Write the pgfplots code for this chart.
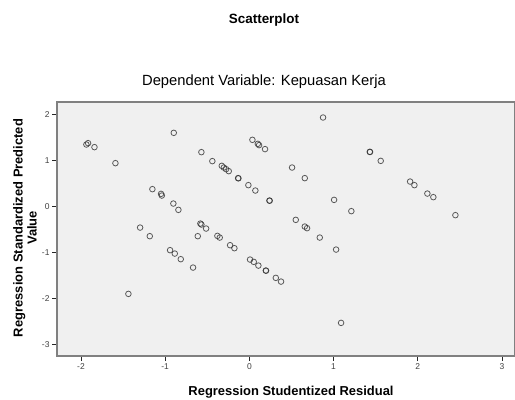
\documentclass[border=0pt]{standalone}
\usepackage{pgfplots}
\pgfplotsset{compat=1.18}
\usepackage{fontspec}
\setmainfont{Liberation Sans}
\definecolor{bgc}{HTML}{F0F0F0}
\definecolor{axc}{HTML}{808080}
\definecolor{mk}{HTML}{333333}
\begin{document}
\begin{tikzpicture}[x=1bp,y=1bp]
\useasboundingbox (0,0) rectangle (515,399);
\begin{axis}[
  at={(57bp,43bp)}, anchor=south west,
  width=458bp, height=254bp, scale only axis,
  xmin=-2.285, xmax=3.155, ymin=-3.25, ymax=2.27,
  axis background/.style={fill=bgc},
  axis line style={draw=axc, line width=1.1pt},
  xtick={-2,-1,0,1,2,3}, xticklabels={-2,-1,0,1,2,3},
  ytick={-3,-2,-1,0,1,2}, yticklabels={-3,-2,-1,0,1,2},
  tick align=outside, major tick length=5bp,
  xtick pos=bottom, ytick pos=left,
  tick style={draw=black!85, line width=0.6pt},
  tick label style={font=\fontsize{8.5}{10}\selectfont, text=black!75},
  xticklabel style={yshift=1bp},
  yticklabel style={xshift=1bp},
  clip=false,
]
\addplot[only marks, mark=o, mark size=2.8bp, draw=mk, draw opacity=0.8, line width=0.8pt] coordinates {
(-1.936,1.346) (-1.916,1.376) (-1.84,1.289) (-1.591,0.941) (-0.898,1.6)
(-0.570,1.18) (-0.44,0.985) (-1.152,0.376) (-1.049,0.274) (-1.040,0.237)
(-0.903,0.063) (-0.843,-0.074) (-1.298,-0.459) (-0.582,-0.372) (-0.570,-0.393)
(-0.514,-0.48) (0.875,1.933) (0.036,1.448) (0.1,1.361) (0.115,1.333)
(0.186,1.246) (-0.328,0.883) (-0.304,0.846) (-0.277,0.811) (-0.245,0.767)
(-0.134,0.615) (-0.130,0.612) (-0.012,0.463) (0.071,0.346) (0.238,0.128) (0.241,0.125)
(0.507,0.846) (0.658,0.615) (1.006,0.143) (1.211,-0.102) (0.551,-0.291)
(0.658,-0.437) (0.685,-0.472) (1.43,1.187) (1.433,1.184) (1.56,0.991)
(1.909,0.541) (1.96,0.463) (2.114,0.28) (2.185,0.202) (2.447,-0.189)
(-1.183,-0.646) (-0.942,-0.95) (-0.886,-1.024) (-0.815,-1.146) (-0.669,-1.328)
(-1.437,-1.9) (-0.613,-0.646) (-0.38,-0.639) (-0.352,-0.676) (-0.229,-0.842)
(-0.178,-0.907) (0.008,-1.154) (0.052,-1.204) (0.107,-1.285) (0.195,-1.393)
(0.198,-1.396) (0.314,-1.552) (0.376,-1.633) (0.836,-0.676) (1.03,-0.937)
(1.089,-2.53)
};
\end{axis}
\node[anchor=base, font=\bfseries\fontsize{13.5}{15}\selectfont] at (264,375.7) {Scatterplot};
\node[anchor=base, font=\fontsize{14.8}{17}\selectfont] at (264,314) {Dependent Variable: Kepuasan Kerja};
\node[anchor=base, font=\bfseries\fontsize{13}{15}\selectfont] at (291,3.5) {Regression Studentized Residual};
\node[rotate=90, align=center, font=\bfseries\fontsize{13}{14}\selectfont] at (25,171) {Regression Standardized Predicted\\Value};
\end{tikzpicture}
\end{document}
